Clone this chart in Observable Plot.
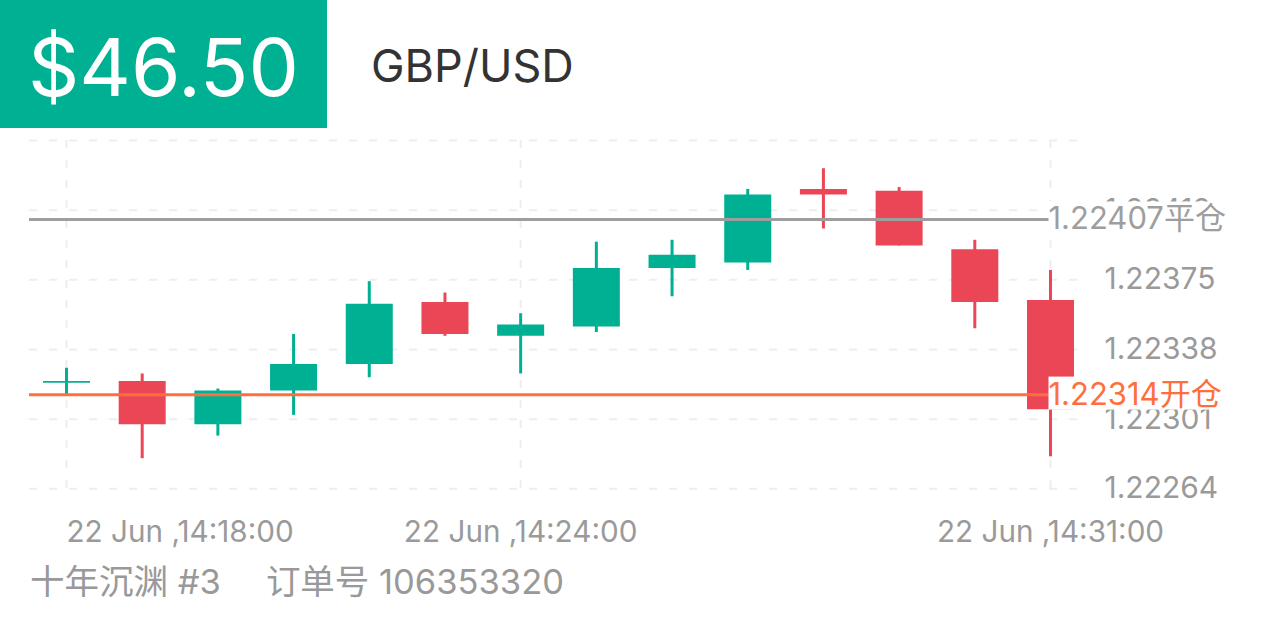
<!DOCTYPE html>
<html>
<head>
<meta charset="utf-8">
<script src="https://cdn.jsdelivr.net/npm/d3@7"></script>
<script src="https://cdn.jsdelivr.net/npm/@observablehq/plot@0.6"></script>
<style>
  html, body { margin: 0; padding: 0; background: #fff; width: 1266px; height: 633px; overflow: hidden; }
  body { font-family: Inter, "Noto Sans CJK SC", sans-serif; }
  #header { position: relative; height: 128px; }
  #price { position: absolute; left: 0; top: 0; width: 327px; height: 128px; background: #00B092; color: #fff;
           font-size: 80px; line-height: 134px; text-align: center; }
  #pair { position: absolute; left: 371px; top: 0; font-size: 45px; line-height: 132px; color: #333; }
  #footer { height: 77px; padding-left: 30px; font-size: 34.5px; line-height: 52px; color: #999; white-space: pre; }
  #footer span + span { margin-left: 45px; }
</style>
</head>
<body>
<div id="header"><div id="price"></div><div id="pair"></div></div>
<div id="chart"></div>
<div id="footer"></div>
<script>
// One-minute GBP/USD candles, 22 Jun
const times  = ["14:18","14:19","14:20","14:21","14:22","14:23","14:24","14:25","14:26","14:27","14:28","14:29","14:30","14:31"];
const open   = [1.22320, 1.22321, 1.22298, 1.22316, 1.22330, 1.22363, 1.22345, 1.22350, 1.22381, 1.22384, 1.22423, 1.22422, 1.22391, 1.22364];
const high   = [1.22328, 1.22325, 1.22317, 1.22346, 1.22374, 1.22368, 1.22357, 1.22395, 1.22396, 1.22423, 1.22434, 1.22424, 1.22396, 1.22380];
const low    = [1.22313, 1.22280, 1.22292, 1.22303, 1.22323, 1.22345, 1.22325, 1.22347, 1.22366, 1.22380, 1.22402, 1.22393, 1.22349, 1.22281];
const close  = [1.22321, 1.22298, 1.22316, 1.22330, 1.22362, 1.22346, 1.22351, 1.22381, 1.22388, 1.22420, 1.22420, 1.22393, 1.22363, 1.22306];

// Price axis: gridlines and the labelled ones
const yGrid   = [1.22264, 1.22301, 1.22338, 1.22375, 1.22412, 1.22449];
const yLabels = [1.22264, 1.22301, 1.22338, 1.22375, 1.22412];
// Time axis ticks
const xTicks  = ["14:18", "14:24", "14:31"];

// Position levels
const tagValues = [1.22407, 1.22314];
const tagNames  = ["平仓", "开仓"];
const tagColors = ["#9E9E9E", "#FF6F3D"];

// Header and footer texts
const pnlText   = "$46.50";
const pairText  = "GBP/USD";
const footTexts = ["十年沉渊 #3", "订单号 106353320"];

const UP = "#00B092", DOWN = "#EB4656";
const FONT = 'Inter, "Noto Sans CJK SC", sans-serif';

const parseT = t => d3.utcParse("%Y-%m-%d %H:%M")("2022-06-22 " + t);
const fmtT = d3.utcFormat("%d %b ,%H:%M:%S");

const candles = times.map((t, i) => ({
  time: parseT(t), open: open[i], high: high[i], low: low[i], close: close[i],
  color: close[i] >= open[i] ? UP : DOWN
}));
const tickDates = xTicks.map(parseT);
const tags = tagValues.map((v, i) => ({value: v, label: v.toFixed(5) + tagNames[i], color: tagColors[i]}));

document.getElementById("price").textContent = pnlText;
document.getElementById("pair").textContent = pairText;
const foot = document.getElementById("footer");
footTexts.forEach(s => { const sp = document.createElement("span"); sp.textContent = s; foot.appendChild(sp); });

const grid = {stroke: "#EEEEEE", strokeWidth: 2, strokeDasharray: "8,12"};
const axisText = {fill: "#9A9A9A", fontFamily: FONT};

const chart = Plot.plot({
  width: 1266,
  height: 428,
  marginLeft: 29,
  marginRight: 188,
  marginTop: 12,
  marginBottom: 67.7,
  style: {fontFamily: FONT, background: "transparent", overflow: "visible"},
  x: {type: "utc", domain: [candles[0].time, candles[candles.length - 1].time], range: [66, 1050], axis: null},
  y: {domain: [yGrid[0], yGrid[yGrid.length - 1]], axis: null},
  color: {type: "identity"},
  marks: [
    Plot.ruleY(yGrid, grid),
    Plot.ruleX(tickDates, grid),
    // wicks
    Plot.ruleX(candles, {x: "time", y1: "low", y2: "high", stroke: "color", strokeWidth: 3}),
    // bodies
    Plot.ruleX(candles, {x: "time", y1: "open", y2: "close", stroke: "color", strokeWidth: 47}),
    // position levels
    Plot.ruleY(tags, {y: "value", stroke: "color", strokeWidth: 3}),
    // price labels on the right
    Plot.text(yLabels, {y: d => d, text: d => d.toFixed(5), frameAnchor: "right", textAnchor: "start", dx: 26, fontSize: 30, ...axisText}),
    Plot.text(tags, {y: "value", text: "label", fill: "color", frameAnchor: "right", textAnchor: "start", dx: -30,
                     fontSize: 31, fontFamily: FONT}),
    // time labels below
    Plot.text(tickDates.slice(0, 1), {x: d => d, text: d => fmtT(d), frameAnchor: "bottom", dy: 52.7, textAnchor: "start", fontSize: 29.7, ...axisText}),
    Plot.text(tickDates.slice(1), {x: d => d, text: d => fmtT(d), frameAnchor: "bottom", dy: 52.7, textAnchor: "middle", fontSize: 29.7, ...axisText})
  ]
});
document.getElementById("chart").appendChild(chart);

// white plates behind the level tags
const tagLabels = tags.map(d => d.label);
chart.querySelectorAll("text").forEach(t => {
  if (!tagLabels.includes(t.textContent)) return;
  const b = t.getBBox();
  const h = 33;
  const r = document.createElementNS("http://www.w3.org/2000/svg", "rect");
  r.setAttribute("x", b.x);
  r.setAttribute("y", b.y + (b.height - h) / 2);
  r.setAttribute("width", b.width + 2);
  r.setAttribute("height", h);
  r.setAttribute("fill", "#fff");
  if (t.getAttribute("transform")) r.setAttribute("transform", t.getAttribute("transform"));
  t.parentNode.insertBefore(r, t);
});
</script>
</body>
</html>
